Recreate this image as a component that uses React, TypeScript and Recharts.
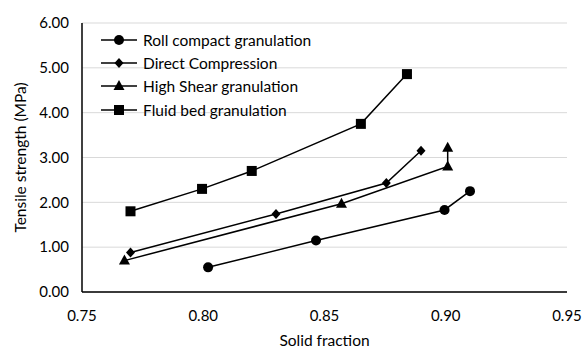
import { ScatterChart, Scatter, XAxis, YAxis, CartesianGrid, Label } from "recharts";

const rollCompact = [
  { x: 0.802, y: 0.55 },
  { x: 0.8465, y: 1.15 },
  { x: 0.8995, y: 1.83 },
  { x: 0.91, y: 2.25 },
];
const directCompression = [
  { x: 0.77, y: 0.88 },
  { x: 0.83, y: 1.74 },
  { x: 0.8755, y: 2.43 },
  { x: 0.8898, y: 3.15 },
];
const highShear = [
  { x: 0.7675, y: 0.7 },
  { x: 0.857, y: 1.97 },
  { x: 0.9008, y: 2.8 },
  { x: 0.9008, y: 3.22 },
];
const fluidBed = [
  { x: 0.77, y: 1.8 },
  { x: 0.7995, y: 2.3 },
  { x: 0.82, y: 2.7 },
  { x: 0.865, y: 3.75 },
  { x: 0.884, y: 4.86 },
];
const xTicks = [0.75, 0.8, 0.85, 0.9, 0.95];
const yTicks = [0, 1, 2, 3, 4, 5, 6];

const series = [
  { name: "Roll compact granulation", data: rollCompact, shape: "circle" },
  { name: "Direct Compression", data: directCompression, shape: "diamond" },
  { name: "High Shear granulation", data: highShear, shape: "triangle" },
  { name: "Fluid bed granulation", data: fluidBed, shape: "square" },
];

const font = "Lato, 'Open Sans', sans-serif";

const Marker = ({ cx, cy, kind }: any) => {
  if (cx == null || cy == null) return null;
  if (kind === "circle") return <circle cx={cx} cy={cy} r={5} fill="#000" />;
  if (kind === "diamond")
    return <polygon points={`${cx},${cy - 5} ${cx + 4.5},${cy} ${cx},${cy + 5} ${cx - 4.5},${cy}`} fill="#000" />;
  if (kind === "triangle")
    return <polygon points={`${cx},${cy - 6} ${cx + 5.5},${cy + 4} ${cx - 5.5},${cy + 4}`} fill="#000" />;
  return <rect x={cx - 5} y={cy - 5} width={10} height={10} fill="#000" />;
};

// legend drawn as an overlay so it doesn't shrink the plot area
const LegendBox = () => (
  <div style={{ position: "absolute", left: 99, top: 28, fontFamily: font, fontSize: 15.5, color: "#000" }}>
    {series.map((s) => (
      <div key={s.name} style={{ display: "flex", alignItems: "center", height: 23.3, whiteSpace: "nowrap" }}>
        <svg width={40} height={14}>
          <line x1={2} y1={7} x2={38} y2={7} stroke="#000" strokeWidth={1.5} />
          <Marker cx={20} cy={7} kind={s.shape} />
        </svg>
        <span style={{ marginLeft: 4 }}>{s.name}</span>
      </div>
    ))}
  </div>
);

export default function App() {
  return (
    <div style={{ position: "absolute", left: 0, top: 0, width: 582, height: 349 }}>
      <ScatterChart width={582} height={349} margin={{ top: 23, right: 15, left: 0, bottom: 0 }}>
        <CartesianGrid vertical={false} stroke="#d9d9d9" />
        <XAxis
          type="number"
          dataKey="x"
          domain={[0.75, 0.95]}
          ticks={xTicks}
          tickFormatter={(v: number) => v.toFixed(2)}
          tickLine={false}
          axisLine={{ stroke: "#000", strokeWidth: 1.5 }}
          tick={{ fill: "#000", fontSize: 15, fontFamily: font }}
          tickMargin={12}
          height={57}
          allowDataOverflow
        >
          <Label value="Solid fraction" position="insideBottom" offset={3} style={{ fill: "#000", fontSize: 15.5, fontFamily: font }} />
        </XAxis>
        <YAxis
          type="number"
          dataKey="y"
          domain={[0, 6]}
          ticks={yTicks}
          tickFormatter={(v: number) => v.toFixed(2)}
          tickLine={false}
          axisLine={{ stroke: "#000", strokeWidth: 1.5 }}
          tick={{ fill: "#000", fontSize: 15, fontFamily: font }}
          tickMargin={7}
          width={82}
        >
          <Label
            value="Tensile strength (MPa)"
            angle={-90}
            position="insideLeft"
            offset={20}
            style={{ textAnchor: "middle", fill: "#000", fontSize: 15.5, fontFamily: font }}
          />
        </YAxis>
        {series.map((s) => (
          <Scatter
            key={s.name}
            name={s.name}
            data={s.data}
            line={{ stroke: "#000", strokeWidth: 1.5 }}
            shape={(p: any) => <Marker cx={p.cx} cy={p.cy} kind={s.shape} />}
            isAnimationActive={false}
          />
        ))}
      </ScatterChart>
      <LegendBox />
    </div>
  );
}
